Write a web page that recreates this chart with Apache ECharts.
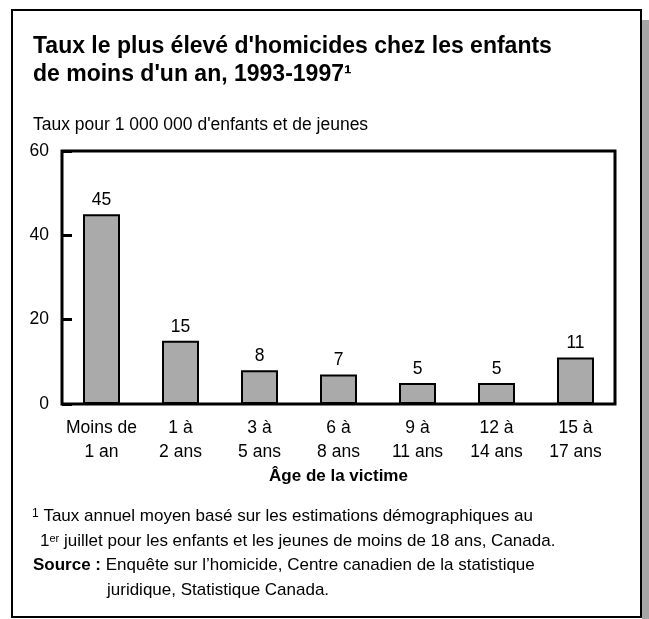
<!DOCTYPE html>
<html lang="fr" style="height: 100%">
<head>
  <meta charset="utf-8" />
</head>
<body style="height: 100%; margin: 0; background: #fff">
  <div id="container" style="width: 649px; height: 619px"></div>
  <script src="https://cdn.jsdelivr.net/npm/echarts@6/dist/echarts.min.js"></script>
  <script>
    // Âge de la victime (two-line labels)
    var ageGroups = [
      "Moins de\n1 an",
      "1 à\n2 ans",
      "3 à\n5 ans",
      "6 à\n8 ans",
      "9 à\n11 ans",
      "12 à\n14 ans",
      "15 à\n17 ans"
    ];
    // taux pour 1 000 000
    var rates = [45, 15, 8, 7, 5, 5, 11];
    var yTicks = [0, 20, 40, 60];

    var font = "'Liberation Sans', Arial, Helvetica, sans-serif";
    var chart = echarts.init(document.getElementById("container"), null, { renderer: "canvas" });

    var option = {
      backgroundColor: "#fff",
      animation: false,
      title: {
        text: "Taux le plus élevé d'homicides chez les enfants\nde moins d'un an, 1993-1997¹",
        left: 33,
        top: 33,
        padding: 0,
        textStyle: {
          fontFamily: font,
          fontWeight: "bold",
          fontSize: 23,
          lineHeight: 27.5,
          color: "#000"
        }
      },
      grid: {
        left: 62,
        right: 34,
        top: 151,
        bottom: 215,
        show: true,
        borderColor: "#000",
        borderWidth: 3,
        backgroundColor: "transparent"
      },
      xAxis: {
        type: "category",
        data: ageGroups,
        name: "Âge de la victime",
        nameLocation: "middle",
        nameGap: 64,
        nameTextStyle: { fontFamily: font, fontWeight: "bold", fontSize: 17, color: "#000" },
        axisLine: { show: false },
        axisTick: { show: false },
        axisLabel: {
          interval: 0,
          margin: 12,
          fontFamily: font,
          fontSize: 17.5,
          lineHeight: 24,
          color: "#000"
        }
      },
      yAxis: {
        type: "value",
        min: yTicks[0],
        max: yTicks[yTicks.length - 1],
        interval: 20,
        splitLine: { show: false },
        axisLine: { show: false },
        axisTick: { show: true, inside: true, length: 10, lineStyle: { color: "#000", width: 3 } },
        axisLabel: { margin: 13, fontFamily: font, fontSize: 17.5, color: "#000" }
      },
      series: [
        {
          type: "bar",
          data: rates,
          barWidth: 37,
          itemStyle: { color: "#aaaaaa", borderColor: "#000", borderWidth: 2 },
          label: {
            show: true,
            position: "top",
            distance: 5,
            fontFamily: font,
            fontSize: 17.5,
            color: "#000"
          }
        }
      ],
      graphic: [
        { type: "rect", z: -10, shape: { x: 642, y: 20, width: 7, height: 599 }, style: { fill: "#a6a6a6" } },
        { type: "rect", z: -5, shape: { x: 12, y: 10, width: 629, height: 607 }, style: { fill: "none", stroke: "#000", lineWidth: 2 } },
        {
          type: "text", left: 33, top: 116,
          style: { text: "Taux pour 1 000 000 d'enfants et de jeunes", font: "17.5px " + font, fill: "#000" }
        },
        {
          type: "text", left: 32, top: 508,
          style: {
            text: "{sup|1} Taux annuel moyen basé sur les estimations démographiques au",
            font: "17px " + font, fill: "#000",
            rich: { sup: { fontSize: 12, padding: [0, 0, 5, 0] } }
          }
        },
        {
          type: "text", left: 40, top: 533,
          style: {
            text: "1{sup|er} juillet pour les enfants et les jeunes de moins de 18 ans, Canada.",
            font: "17px " + font, fill: "#000",
            rich: { sup: { fontSize: 11, padding: [0, 0, 6, 0] } }
          }
        },
        {
          type: "text", left: 33, top: 557,
          style: {
            text: "{b|Source :} Enquête sur l’homicide, Centre canadien de la statistique",
            font: "17px " + font, fill: "#000",
            rich: { b: { fontWeight: "bold", fontSize: 17, fontFamily: font } }
          }
        },
        {
          type: "text", left: 107, top: 582,
          style: { text: "juridique, Statistique Canada.", font: "17px " + font, fill: "#000" }
        }
      ]
    };

    chart.setOption(option);
  </script>
</body>
</html>
